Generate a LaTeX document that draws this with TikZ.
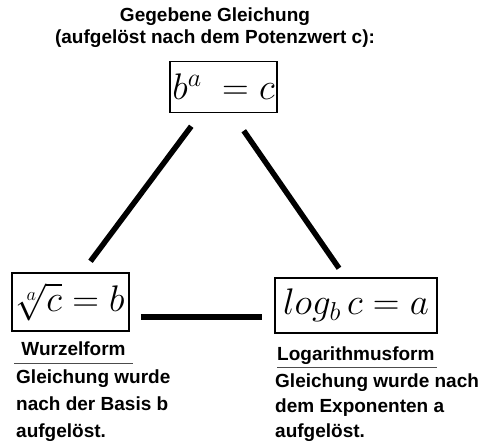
\RequirePackage{fix-cm}
\documentclass[tikz,border=0pt]{standalone}
\usepackage[no-math]{fontspec}
\setmainfont{Liberation Sans}
\usetikzlibrary{positioning,calc}

\begin{document}
\begin{tikzpicture}[
    x=1pt, y=-1pt,
    formel/.style={
        rectangle,
        draw,
        line width=1.5pt,
        inner sep=0pt,
        font=\fontsize{37}{40}\selectfont
    },
    txt/.style={
        inner sep=0pt,
        align=left,
        font=\bfseries\fontsize{19}{27}\selectfont
    },
    link/.style={draw, line width=5.5pt},
    rule/.style={draw, line width=1pt, black!70}
]

\useasboundingbox (0,0) rectangle (484,442);

% the three forms
\node[formel, minimum width=107pt, minimum height=51pt] (given) at (223.5,87) {$b^a\;=c$};
\node[formel, minimum width=117pt, minimum height=58pt] (root) at (70.5,302) {$\sqrt[a]{c}=b$};
\node[formel, minimum width=162pt, minimum height=55pt] (log) at (356,305.5) {$log_b\,c=a$};

% connectors
\draw[link] ([xshift=22pt,yshift=-13pt]given.south west) -- ([xshift=20pt,yshift=11pt]root.north);
\draw[link] ([xshift=-34pt,yshift=-17.5pt]given.south east) -- ([xshift=-17pt,yshift=9pt]log.north);
\coordinate (mid) at ([yshift=-15pt]root.east);
\draw[link, shorten <=11pt, shorten >=12pt] (mid) -- (mid -| log.west);

% texts
\node[txt, align=center, anchor=base, font=\bfseries\fontsize{19}{21.5}\selectfont] (given-text) at (215,43)
    {Gegebene Gleichung\\(aufgelöst nach dem Potenzwert c):};

\node[txt, anchor=base] (root-name) at (73.5,355) {Wurzelform};
\draw[rule] ($(root-name.base west)+(-7,8)$) -- ($(root-name.base east)+(7,8)$);
\node[txt, anchor=base west] (root-text) at (16,437)
    {Gleichung wurde\\nach der Basis b\\aufgelöst.};

\node[txt, anchor=base west] (log-name) at (277,360) {Logarithmusform};
\draw[rule] ($(log-name.base west)+(0,7)$) -- ($(log-name.base east)+(2,7)$);
\node[txt, anchor=base west, font=\bfseries\fontsize{19}{25}\selectfont] (log-text) at (275,437)
    {Gleichung wurde nach\\dem Exponenten a\\aufgelöst.};

\end{tikzpicture}
\end{document}
